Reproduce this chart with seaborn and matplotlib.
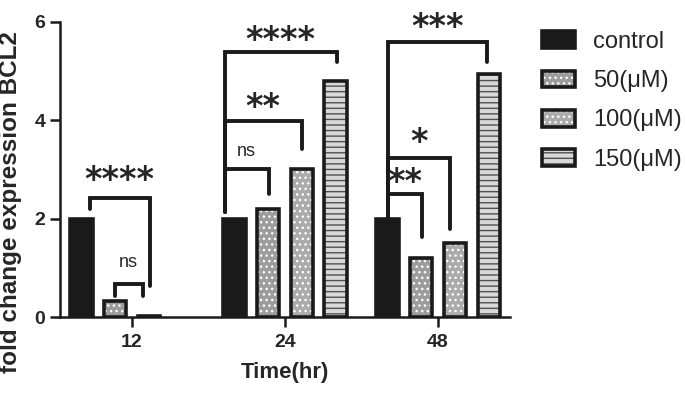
import numpy as np
import pandas as pd
import matplotlib
matplotlib.use("Agg")
import matplotlib.pyplot as plt
from matplotlib.patches import Patch
import seaborn as sns

# data
times = ["12", "24", "48"]
groups = ["control", "50(\u03bcM)", "100(\u03bcM)", "150(\u03bcM)"]
control = [2.0, 2.0, 2.0]
dose_50 = [0.33, 2.2, 1.2]
dose_100 = [0.03, 3.0, 1.5]
dose_150 = [np.nan, 4.8, 4.95]

# significance brackets: x-left, x-right (category units), bar height, left/right leg ends, label, label y
br_xl = [-0.276, -0.113, 0.606, 0.606, 0.606, 1.671, 1.671, 1.671]
br_xr = [0.116, 0.070, 1.338, 1.109, 0.893, 2.318, 2.077, 1.892]
br_y = [2.43, 0.67, 5.38, 3.98, 3.00, 5.60, 3.24, 2.50]
br_yl = [2.19, 0.43, 2.13, 2.13, 2.13, 2.00, 2.00, 2.00]
br_yr = [0.63, 0.43, 5.19, 3.41, 2.50, 5.19, 1.78, 1.62]
br_lab = ["****", "ns", "****", "**", "ns", "***", "*", "**"]
br_ty = [2.78, 1.10, 5.62, 4.26, 3.37, 5.88, 3.54, 2.74]

df = pd.DataFrame({
    "time": np.tile(times, 4),
    "group": np.repeat(groups, 3),
    "value": control + dose_50 + dose_100 + dose_150,
})

sns.set_style("ticks")
plt.rcParams["font.family"] = ["Liberation Sans", "DejaVu Sans"]

fig = plt.figure(figsize=(6.85, 3.98), dpi=100)
ax = fig.add_axes([0.0876, 0.2035, 0.657, 0.7413])

dark = "#1a1a1a"
palette = ["#1a1a1a", "#9c9c9c", "#ababab", "#d8d8d8"]
hatches = [None, "...", "...", "---"]
hcolors = [dark, "white", "white", "#505050"]

# filled bars with hatch (hatch colour comes from the edge colour)
sns.barplot(data=df, x="time", y="value", hue="group", order=times,
            hue_order=groups, palette=palette, width=0.88, gap=0.34,
            saturation=1, legend=False, ax=ax)
for cont, h, hc in zip(ax.containers, hatches, hcolors):
    for bar in cont:
        bar.set_edgecolor(hc)
        bar.set_linewidth(0)
        if h:
            bar.set_hatch(h)

# outlines on top
n_fill = len(ax.containers)
sns.barplot(data=df, x="time", y="value", hue="group", order=times,
            hue_order=groups, palette=palette, width=0.88, gap=0.34,
            fill=False, legend=False, ax=ax)
for cont in ax.containers[n_fill:]:
    for bar in cont:
        bar.set_edgecolor(dark)
        bar.set_linewidth(2.6)

for xl, xr, y, yl, yr, lab, ty in zip(br_xl, br_xr, br_y, br_yl, br_yr, br_lab, br_ty):
    ax.plot([xl, xl, xr, xr], [yl, y, y, yr], color=dark, lw=2.8,
            solid_joinstyle="miter", clip_on=False)
    if lab == "ns":
        ax.text((xl + xr) / 2, ty, lab, ha="center", va="center", fontsize=13)
    else:
        ax.text((xl + xr) / 2, ty, lab, ha="center", va="center", fontsize=24,
                fontweight="bold", family="DejaVu Sans", clip_on=False)

ax.set_ylim(0, 6)
ax.set_xlim(-0.47, 2.47)
ax.set_yticks([0, 2, 4, 6])
ax.tick_params(labelsize=14, width=1.8, length=7.5, color=dark, pad=3)
ax.tick_params(axis="x", pad=5)
for lab in ax.get_xticklabels() + ax.get_yticklabels():
    lab.set_fontweight("bold")
for s in ["left", "bottom"]:
    ax.spines[s].set_linewidth(1.8)
    ax.spines[s].set_color(dark)
sns.despine(ax=ax)

ax.set_xlabel("Time(hr)", fontsize=16, fontweight="bold", labelpad=8)
ax.set_ylabel("fold change expression BCL2", fontsize=17.5, fontweight="bold")
ax.yaxis.set_label_coords(-0.085, 0.39)

handles = []
for fc, h, hc in zip(palette, hatches, hcolors):
    handles.append((Patch(facecolor=fc, hatch=h, edgecolor=hc, linewidth=0),
                    Patch(fill=False, edgecolor=dark, linewidth=2.6)))
ax.legend(handles, groups, loc="upper left", bbox_to_anchor=(0.7775, 0.946),
          bbox_transform=fig.transFigure, frameon=False, fontsize=17,
          handlelength=1.4, handleheight=0.72, labelspacing=0.73,
          handletextpad=0.76, borderaxespad=0)

fig.savefig("out.png", dpi=100)
